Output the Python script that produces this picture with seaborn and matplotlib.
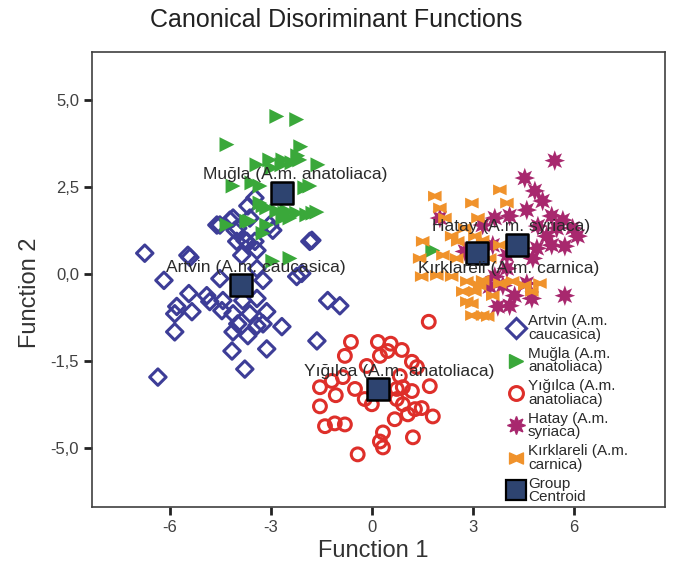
import numpy as np
import pandas as pd
import seaborn as sns
import matplotlib.pyplot as plt
from matplotlib.path import Path
from matplotlib.lines import Line2D

sns.set_theme(style="white")
plt.rcParams["font.family"] = ["Liberation Sans", "DejaVu Sans"]

# discriminant scores (Function 1, Function 2)
artvin = [(-6.74, 0.61), (-5.40, 0.49), (-6.17, -0.17), (-5.43, -0.55), (-5.79, -0.92),
          (-5.85, -1.13), (-5.34, -1.07), (-5.85, -1.65), (-4.90, -0.61), (-4.81, -0.78),
          (-4.51, -0.12), (-4.45, -1.04), (-4.42, -0.75), (-4.12, -1.13), (-3.98, -1.42),
          (-4.12, -1.65), (-4.15, -2.20), (-3.77, -2.72), (-6.35, -2.95), (-3.83, -0.75),
          (-3.41, -0.69), (-3.62, -1.13), (-3.41, -1.47), (-3.23, -1.42), (-3.12, -1.07),
          (-3.12, -2.14), (-2.67, -1.50), (-3.68, -1.76), (-3.23, -0.17), (-3.41, 0.17),
          (-3.41, 0.69), (-3.71, 0.95), (-4.01, 0.95), (-3.86, 0.55), (-4.51, 1.42),
          (-4.06, 1.27), (-4.21, 1.56), (-3.62, 1.62), (-2.94, 1.27), (-2.23, -0.06),
          (-2.08, 0.03), (-1.78, 0.98), (-1.31, -0.75), (-0.95, -0.90), (-1.63, -1.91),
          (-3.47, 2.20), (-3.68, 1.97), (-4.12, 1.62), (-4.60, 1.42), (-3.98, 1.33),
          (-3.77, 0.98), (-3.47, 0.95), (-3.03, 1.42), (-1.84, 0.95), (-5.46, 0.55)]

mugla = [(-2.82, 4.54), (-2.23, 4.45), (-4.30, 3.73), (-2.11, 3.67), (-3.41, 3.15),
         (-2.97, 3.06), (-2.67, 3.15), (-2.37, 3.21), (-2.14, 3.29), (-1.60, 3.15),
         (-4.12, 2.54), (-3.32, 2.54), (-1.84, 2.54), (-3.23, 1.97), (-2.82, 1.82),
         (-2.52, 1.82), (-2.23, 1.76), (-1.63, 1.79), (-2.43, 1.62), (-1.93, 1.71),
         (-4.30, 1.42), (-3.71, 1.53), (-3.23, 1.18), (-2.43, 0.46), (-2.94, 0.38),
         (-3.03, 3.29), (-2.64, 3.29), (-2.20, 3.41), (-3.56, 2.63), (-1.99, 2.49),
         (-3.32, 2.05), (-3.12, 1.91), (-2.58, 1.76), (-1.75, 1.76), (-3.62, 1.53),
         (-3.12, 1.42), (-2.64, 1.62), (1.81, 0.69)]

yigilca = [(1.69, -1.36), (-0.62, -1.94), (0.18, -1.94), (0.56, -1.99), (0.89, -2.17),
           (-0.80, -2.34), (0.24, -2.34), (0.47, -2.20), (1.19, -2.51), (1.34, -2.66),
           (-0.15, -2.63), (-0.86, -2.95), (-1.19, -3.06), (-1.54, -3.24), (-0.50, -3.29),
           (-0.21, -3.58), (0.00, -3.73), (0.74, -3.29), (0.92, -3.24), (1.19, -3.35),
           (0.74, -3.58), (0.92, -3.73), (1.07, -4.02), (1.28, -3.87), (1.48, -3.84),
           (1.72, -3.21), (1.81, -4.08), (0.68, -4.16), (-1.07, -3.47), (-1.54, -3.79),
           (-1.39, -4.36), (-1.10, -4.28), (-0.80, -4.31), (0.33, -4.54), (0.24, -4.80),
           (0.33, -4.97), (1.22, -4.68), (-0.42, -5.17), (0.83, -2.92)]

hatay = [(5.43, 3.27), (4.54, 2.77), (4.84, 2.40), (5.07, 2.11), (4.60, 1.85),
         (5.34, 1.68), (5.67, 1.56), (4.09, 1.68), (3.65, 1.62), (4.93, 1.39),
         (5.49, 1.33), (5.96, 1.33), (6.11, 1.10), (5.19, 1.10), (5.73, 0.81),
         (4.90, 0.75), (5.34, 0.84), (4.78, 0.46), (3.59, 0.84), (2.76, 0.66),
         (4.01, 0.55), (4.01, 0.17), (3.65, -0.06), (3.50, -0.35), (3.89, -0.32),
         (4.24, -0.61), (4.60, -0.26), (4.09, -0.90), (3.74, -0.92), (5.73, -0.61),
         (4.75, -0.69), (2.02, 1.62), (3.29, 1.42)]

kirklareli = [(1.87, 2.25), (2.02, 1.91), (2.97, 2.05), (3.80, 2.43), (4.01, 2.05),
              (2.17, 1.62), (3.15, 1.62), (2.76, 1.33), (1.51, 0.95), (2.37, 1.10),
              (2.55, 0.95), (3.06, 1.10), (3.29, 0.98), (3.80, 0.84), (2.11, 0.55),
              (2.52, 0.46), (3.50, 0.46), (1.42, 0.46), (1.48, -0.06), (1.93, -0.03),
              (2.37, -0.06), (2.82, -0.20), (3.29, -0.17), (3.80, -0.26), (2.70, -0.49),
              (3.06, -0.49), (3.20, -0.32), (4.18, -0.20), (4.54, -0.32), (4.99, -0.26),
              (4.75, -0.49), (3.59, -0.61), (2.82, -0.78), (2.97, -0.84), (3.29, -1.18),
              (2.97, -1.18), (3.44, -1.21)]

group_names = ["Artvin (A.m.\ncaucasica)", "Muğla (A.m.\nanatoliaca)", "Yığılca (A.m.\nanatoliaca)",
               "Hatay (A.m.\nsyriaca)", "Kırklareli (A.m.\ncarnica)"]
centroid_labels = ["Artvin (A.m. caucasica)", "Muğla (A.m. anatoliaca)", "Yığılca (A.m. anatoliaca)",
                   "Hatay (A.m. syriaca)", "Kırklareli (A.m. carnica)"]
centroid_f1 = [-3.89, -2.67, 0.18, 4.30, 3.12]
centroid_f2 = [-0.29, 2.34, -3.29, 0.84, 0.61]

y_ticks = [5.0, 2.5, 0.0, -2.5, -5.0]
y_ticklabels = ["5,0", "2,5", "0,0", "-1,5", "-5,0"]
x_ticks = [-6, -3, 0, 3, 6]

rows = []
for name, pts in zip(group_names, [artvin, mugla, yigilca, hatay, kirklareli]):
    for f1, f2 in pts:
        rows.append({"group": name, "f1": f1, "f2": f2})
df = pd.DataFrame(rows)

bowtie = Path([(-1, -0.8), (0, -0.35), (1, -0.8), (1, 0.8), (0, 0.35), (-1, 0.8), (-1, -0.8)],
              [Path.MOVETO, Path.LINETO, Path.LINETO, Path.LINETO, Path.LINETO, Path.LINETO, Path.CLOSEPOLY])

styles = {
    group_names[0]: dict(marker="D", s=70, facecolors="none", edgecolor="#3d3d97", linewidth=2.2),
    group_names[1]: dict(marker=">", s=115, color="#3aa83a", edgecolor="none"),
    group_names[2]: dict(marker="o", s=85, facecolors="none", edgecolor="#de2f2a", linewidth=2.2),
    group_names[3]: dict(marker=(8, 1, 0), s=220, color="#a8286e", edgecolor="none"),
    group_names[4]: dict(marker=bowtie, s=95, color="#f0922b", edgecolor="none"),
}

fig = plt.figure(figsize=(6.73, 5.62), dpi=100)
ax = fig.add_axes([0.137, 0.098, 0.851, 0.81])

for name in group_names:
    sub = df[df["group"] == name]
    sns.scatterplot(data=sub, x="f1", y="f2", ax=ax, label=name, legend=False, **styles[name])

cent = pd.DataFrame({"f1": centroid_f1, "f2": centroid_f2})
sns.scatterplot(data=cent, x="f1", y="f2", ax=ax, marker="s", s=250, color="#2e4470",
                edgecolor="black", linewidth=1.8, legend=False, zorder=5)

offsets = [(15, 17), (13, 19), (21, 17), (-6, 19), (32, -15)]
for lab, x, y, off in zip(centroid_labels, centroid_f1, centroid_f2, offsets):
    ax.annotate(lab, (x, y), xytext=off, textcoords="offset pixels", ha="center", va="center",
                fontsize=12.5, color="#2a2a2a", zorder=6)

ax.set_xlim(-8.3, 8.7)
ax.set_ylim(-6.68, 6.4)
ax.set_xticks(x_ticks)
ax.set_xticklabels([str(v) for v in x_ticks])
ax.set_yticks(y_ticks)
ax.set_yticklabels(y_ticklabels)
ax.tick_params(axis="both", direction="out", length=6, width=2, color="#222222",
               labelsize=12, labelcolor="#404040", bottom=True, left=True)
for sp in ax.spines.values():
    sp.set_color("#404040")
    sp.set_linewidth(1.2)

ax.set_xlabel("Function 1", fontsize=17, color="#333333")
ax.set_ylabel("Function 2", fontsize=17, color="#333333")
ax.xaxis.set_label_coords(0.49, -0.097)
ax.xaxis.label.set_va("center")
ax.yaxis.set_label_coords(-0.108, 0.47)
ax.yaxis.label.set_va("center")
fig.suptitle("Canonical Disoriminant Functions", fontsize=18, color="#222222", y=0.985)

handles = []
for name in group_names:
    st = styles[name]
    if st.get("facecolors") == "none":
        handles.append(Line2D([], [], ls="none", marker=st["marker"], markersize=10,
                              markerfacecolor="none", markeredgecolor=st["edgecolor"], markeredgewidth=2.2))
    else:
        handles.append(Line2D([], [], ls="none", marker=st["marker"], markersize=13 if name == group_names[3] else 10,
                              markerfacecolor=st["color"], markeredgecolor=st["color"]))
handles.append(Line2D([], [], ls="none", marker="s", markersize=14, markerfacecolor="#2e4470",
                      markeredgecolor="black", markeredgewidth=1.6))
leg = ax.legend(handles, group_names + ["Group\nCentroid"], loc="upper left", bbox_to_anchor=(0.705, 0.447),
                frameon=False, fontsize=11, labelspacing=0.33, handletextpad=0.2, handlelength=1.2,
                borderpad=0.2, labelcolor="#2a2a2a")
for t in leg.get_texts():
    t.set_linespacing(0.95)

fig.savefig("out.png", dpi=100)
